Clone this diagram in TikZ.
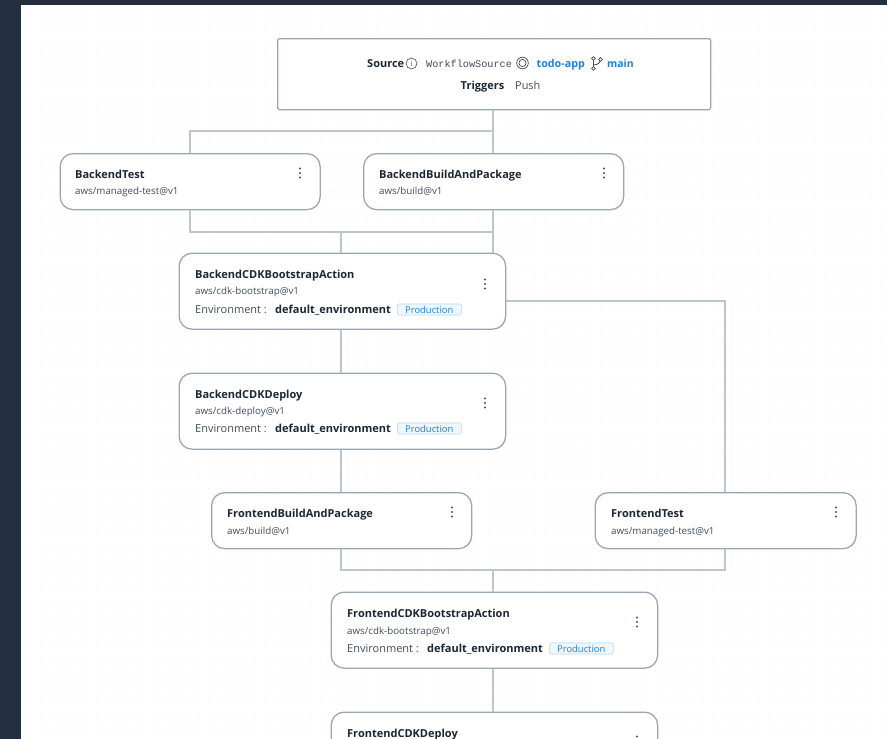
\documentclass[tikz,border=0pt]{standalone}
\usepackage{fontspec}
\setmainfont{Open Sans}
\newfontfamily\monof{Liberation Mono}
\usetikzlibrary{positioning,calc}
\definecolor{navy}{HTML}{232F3E}
\definecolor{edgec}{HTML}{9BA7B6}
\definecolor{linkc}{HTML}{BCC8C8}
\definecolor{inkc}{HTML}{1D2734}
\definecolor{subc}{HTML}{414D5C}
\definecolor{blu}{HTML}{1F7FD8}
\definecolor{badgeb}{HTML}{F0F8FE}
\definecolor{badgee}{HTML}{B5D6F4}
\definecolor{dotc}{HTML}{F1F3F5}
\tikzset{
 x=1pt,y=-1pt,
 card/.style={draw=edgec,line width=1.3pt,fill=white,rounded corners=13pt,inner sep=0pt,anchor=north west},
 srcbox/.style={draw=edgec,line width=1.3pt,fill=white,rounded corners=1.5pt,inner sep=0pt,anchor=north west},
 link/.style={draw=linkc,line width=1.5pt},
 ttl/.style={font=\fontsize{11}{12}\selectfont\bfseries,text=inkc,anchor=base west,inner sep=0pt},
 sub/.style={font=\fontsize{9.75}{12}\selectfont,text=subc,anchor=base west,inner sep=0pt},
 envl/.style={font=\fontsize{11}{12}\selectfont,text=subc,anchor=base west,inner sep=0pt},
 envb/.style={font=\fontsize{11}{12}\selectfont\bfseries,text=inkc,anchor=base west,inner sep=0pt},
 badge/.style={draw=badgee,fill=badgeb,line width=.6pt,rounded corners=1.5pt,text=blu,font=\fontsize{9.4}{10}\selectfont,inner xsep=0pt,inner ysep=0pt,minimum width=64pt,minimum height=11pt,anchor=west},
 kdot/.style={fill=subc,draw=none},
 icn/.style={draw=subc,line width=.7pt},
 dotrow/.style={draw=dotc,line width=1.4pt,line cap=round,dash pattern=on 0pt off 9.33pt},
}
\newcommand{\kebab}[2]{\fill[kdot] (#1,#2-4.5) circle (1.1pt) (#1,#2) circle (1.1pt) (#1,#2+4.5) circle (1.1pt);}
\begin{document}
\begin{tikzpicture}
\useasboundingbox (0,0) rectangle (887,739);
\clip (0,0) rectangle (887,739);
\fill[navy] (0,0) rectangle (887,739);
\fill[white] (21,5) rectangle (887,739);
\foreach \j in {0,...,78}{
 \draw[dotrow] (31.5,13+9.33*\j) -- (887,13+9.33*\j);}
% cards
\node[srcbox,minimum width=433pt,minimum height=71pt] (src) at (277,38) {};
\node[card,minimum width=260pt,minimum height=56pt] (bt) at (59.5,153) {};
\node[card,minimum width=260pt,minimum height=56pt] (bb) at (363,153) {};
\node[card,minimum width=326.5pt,minimum height=76pt] (bcb) at (178.5,252.5) {};
\node[card,minimum width=326.5pt,minimum height=76pt] (bcd) at (178.5,372.5) {};
\node[card,minimum width=260pt,minimum height=56pt] (fb) at (211,492) {};
\node[card,minimum width=261pt,minimum height=56pt] (ft) at (594.5,492) {};
\node[card,minimum width=326.5pt,minimum height=76pt] (fcb) at (330.5,591.5) {};
\node[card,minimum width=326.5pt,minimum height=76pt] (fcd) at (330.5,711.5) {};
% junctions
\coordinate (j1) at (493,131);
\coordinate (j2) at (190,131);
\coordinate (j3) at (190,232);
\coordinate (j4) at (493,232);
\coordinate (j5) at (341,232);
\coordinate (j6) at (725,301);
\coordinate (j7) at (341,570);
\coordinate (j8) at (725,570);
\coordinate (j9) at (493,570);
% connectors
\draw[link] (src.south -| j1) -- (j1) -- (j2) -- (bt.north -| j2);
\draw[link] (j1) -- (bb.north -| j1);
\draw[link] (bb.south -| j4) -- (bcb.north -| j4);
\draw[link] (bt.south -| j3) -- (j3) -- (j4);
\draw[link] (j5) -- (bcb.north -| j5);
\draw[link] (bcb.east |- j6) -- (j6) -- (ft.north -| j6);
\draw[link] (bcb.south -| j5) -- (bcd.north -| j5);
\draw[link] (bcd.south -| j5) -- (fb.north -| j5);
\draw[link] (fb.south -| j7) -- (j7) -- (j8) -- (ft.south -| j8);
\draw[link] (j9) -- (fcb.north -| j9);
\draw[link] (fcb.south -| j9) -- (fcd.north -| j9);
% source text
\node[ttl] (s1) at (367,67.5) {Source};
\draw[icn,line width=.6pt] (411.5,63.5) circle (5.5pt);
\node[font=\fontsize{7.5}{8}\selectfont,text=subc,inner sep=0pt] (s2) at (411.5,63.5) {i};
\node[sub,font=\monof\fontsize{10.2}{12}\selectfont] (s3) at (426,67) {WorkflowSource};
\draw[icn] (522.5,63) circle (5.8pt) (522.5,63) circle (3.6pt);
\node[ttl,text=blu,font=\fontsize{10.7}{12}\selectfont\bfseries] (s4) at (536.5,67) {todo-app};
\draw[icn,line width=.8pt] (593.5,58.5) -- (593.5,68.5) (593.5,65) .. controls (598,64.5) and (600.5,63) .. (600.5,60);
\draw[icn,fill=white,line width=.7pt] (593.5,58.5) circle (1.8pt) (593.5,68.5) circle (1.8pt) (600.5,59.5) circle (1.8pt);
\node[ttl,text=blu,font=\fontsize{10.4}{12}\selectfont\bfseries] (s5) at (607,67) {main};
\node[ttl] (s6) at (460.5,89.5) {Triggers};
\node[sub,font=\fontsize{10.9}{12}\selectfont] (s7) at (515,89.5) {Push};
% card text
\node[ttl] (t1) at (75,178) {BackendTest};
\node[sub] (u1) at (75,194) {aws/managed-test@v1};
\kebab{300}{173}
\node[ttl] (t2) at (379,178) {BackendBuildAndPackage};
\node[sub] (u2) at (379,194) {aws/build@v1};
\kebab{604}{173}
\node[ttl] (t3) at (195,278) {BackendCDKBootstrapAction};
\node[sub] (u3) at (195,294.5) {aws/cdk-bootstrap@v1};
\node[envl] (e3) at (195,313.5) {Environment :};
\node[envb] (d3) at (275,313.5) {default\_environment};
\node[badge] (g3) at (397,309.5) {Production};
\kebab{485}{284}
\node[ttl] (t4) at (195,398) {BackendCDKDeploy};
\node[sub] (u4) at (195,414) {aws/cdk-deploy@v1};
\node[envl] (e4) at (195,432.5) {Environment :};
\node[envb] (d4) at (275,432.5) {default\_environment};
\node[badge] (g4) at (397,428.5) {Production};
\kebab{485}{403}
\node[ttl] (t5) at (227,517.5) {FrontendBuildAndPackage};
\node[sub] (u5) at (227,534) {aws/build@v1};
\kebab{452}{512}
\node[ttl] (t6) at (611,517.5) {FrontendTest};
\node[sub] (u6) at (611,534) {aws/managed-test@v1};
\kebab{836}{512}
\node[ttl] (t7) at (347,617) {FrontendCDKBootstrapAction};
\node[sub] (u7) at (347,634) {aws/cdk-bootstrap@v1};
\node[envl] (e7) at (347,652.5) {Environment :};
\node[envb] (d7) at (427,652.5) {default\_environment};
\node[badge] (g7) at (549,648.5) {Production};
\kebab{637}{622}
\node[ttl] (t8) at (347,737) {FrontendCDKDeploy};
\kebab{637}{741}
\end{tikzpicture}
\end{document}
